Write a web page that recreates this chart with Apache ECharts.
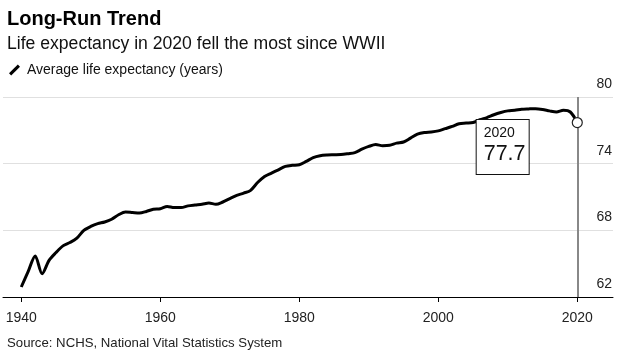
<!DOCTYPE html>
<html>
<head>
<meta charset="utf-8">
<script src="https://cdn.jsdelivr.net/npm/echarts@6/dist/echarts.min.js"></script>
<style>
  html, body { margin: 0; padding: 0; background: #fff; }
  #chart { width: 618px; height: 354px; }
</style>
</head>
<body>
<div id="chart"></div>
<script>
// US average life expectancy
var years = [
  1940, 1941, 1942, 1943, 1944, 1945, 1946, 1947, 1948, 1949,
  1950, 1951, 1952, 1953, 1954, 1955, 1956, 1957, 1958, 1959,
  1960, 1961, 1962, 1963, 1964, 1965, 1966, 1967, 1968, 1969,
  1970, 1971, 1972, 1973, 1974, 1975, 1976, 1977, 1978, 1979,
  1980, 1981, 1982, 1983, 1984, 1985, 1986, 1987, 1988, 1989,
  1990, 1991, 1992, 1993, 1994, 1995, 1996, 1997, 1998, 1999,
  2000, 2001, 2002, 2003, 2004, 2005, 2006, 2007, 2008, 2009,
  2010, 2011, 2012, 2013, 2014, 2015, 2016, 2017, 2018, 2019,
  2020
];
var lifeExp = [
  62.9, 64.3, 65.7, 64.1, 65.3, 66.0, 66.6, 66.9, 67.3, 68.0,
  68.35, 68.6, 68.75, 69.0, 69.4, 69.65, 69.6, 69.55, 69.7, 69.9,
  69.95, 70.15, 70.05, 70.05, 70.2, 70.28, 70.35, 70.46, 70.34, 70.55,
  70.86, 71.15, 71.35, 71.6, 72.3, 72.85, 73.15, 73.45, 73.75, 73.85,
  73.9, 74.2, 74.55, 74.72, 74.78, 74.8, 74.82, 74.9, 75.0, 75.3,
  75.55, 75.72, 75.62, 75.65, 75.85, 75.95, 76.3, 76.65, 76.8, 76.85,
  76.95, 77.15, 77.35, 77.6, 77.65, 77.7, 77.95, 78.15, 78.4, 78.6,
  78.75, 78.8, 78.9, 78.93, 78.95, 78.88, 78.75, 78.65, 78.8, 78.65,
  77.7
];
var xTicks = [1940, 1960, 1980, 2000, 2020];
var seriesName = 'Average life expectancy (years)';

var last = years.length - 1;
var latestYear = years[last];
var latestValue = lifeExp[last];

var font = '"Liberation Sans", Arial, sans-serif';
var chart = echarts.init(document.getElementById('chart'));

var lineData = years.map(function (y, i) { return [y, lifeExp[i]]; });

var option = {
  animation: false,
  title: [
    {
      text: 'Long-Run Trend',
      left: 2, top: 4,
      textStyle: { fontFamily: font, fontSize: 20, fontWeight: 'bold', color: '#000' }
    },
    {
      text: 'Life expectancy in 2020 fell the most since WWII',
      left: 2, top: 30,
      textStyle: { fontFamily: font, fontSize: 17.6, fontWeight: 'normal', color: '#111' }
    },
    {
      text: 'Source: NCHS, National Vital Statistics System',
      left: 2, top: 332,
      textStyle: { fontFamily: font, fontSize: 13.2, fontWeight: 'normal', color: '#222' }
    }
  ],
  legend: {
    left: 4, top: 58,
    itemWidth: 11, itemHeight: 11, itemGap: 10,
    selectedMode: false,
    data: [{ name: seriesName, icon: 'path://M0,9 L8,1 L10,3 L2,11 Z' }],
    textStyle: { fontFamily: font, fontSize: 14, color: '#111', padding: [0, 0, 0, 2] },
    itemStyle: { color: '#000' }
  },
  grid: { left: 3, right: 5, top: 97, bottom: 57 },
  xAxis: {
    type: 'value',
    min: 1937.37,
    max: 2025.14,
    axisLine: { show: true, lineStyle: { color: '#000', width: 1 } },
    axisTick: { show: true, length: 5, customValues: xTicks, lineStyle: { color: '#000' } },
    axisLabel: {
      customValues: xTicks,
      formatter: function (v) { return String(v); },
      fontFamily: font, fontSize: 14, color: '#222', margin: 14
    },
    splitLine: { show: false }
  },
  yAxis: {
    type: 'value',
    position: 'right',
    min: 62, max: 80, interval: 6,
    axisLine: { show: false },
    axisTick: { show: false },
    axisLabel: {
      inside: true, margin: 1,
      fontFamily: font, fontSize: 14, color: '#222',
      verticalAlign: 'bottom', lineHeight: 16, padding: [0, 0, 5, 0]
    },
    splitLine: { lineStyle: { color: '#e0e0e0', width: 1 } }
  },
  series: [
    {
      name: 'vline',
      type: 'line',
      data: [],
      z: 1,
      markLine: {
        z: 1,
        silent: true,
        symbol: 'none',
        label: { show: false },
        lineStyle: { color: '#888', width: 2, type: 'solid' },
        data: [{ xAxis: latestYear }]
      }
    },
    {
      name: seriesName,
      type: 'line',
      z: 3,
      data: lineData,
      smooth: 0.3,
      showSymbol: false,
      lineStyle: { color: '#000', width: 3 },
      itemStyle: { color: '#000' }
    },
    {
      name: 'latest',
      type: 'scatter',
      z: 6,
      data: [[latestYear, latestValue]],
      symbol: 'circle',
      symbolSize: 10,
      itemStyle: { color: '#fff', borderColor: '#222', borderWidth: 1.2, opacity: 1 },
      label: {
        show: true,
        position: [-95, 3],
        formatter: function (p) { return '{a|' + p.value[0] + '}\n{b|' + p.value[1] + '}'; },
        backgroundColor: '#fff',
        borderColor: '#111',
        borderWidth: 1,
        padding: [5, 6, 8, 7],
        width: 39,
        rich: {
          a: { fontFamily: font, fontSize: 14, lineHeight: 17, color: '#111' },
          b: { fontFamily: font, fontSize: 21.5, lineHeight: 24, color: '#111' }
        }
      }
    }
  ]
};

chart.setOption(option);
</script>
</body>
</html>
